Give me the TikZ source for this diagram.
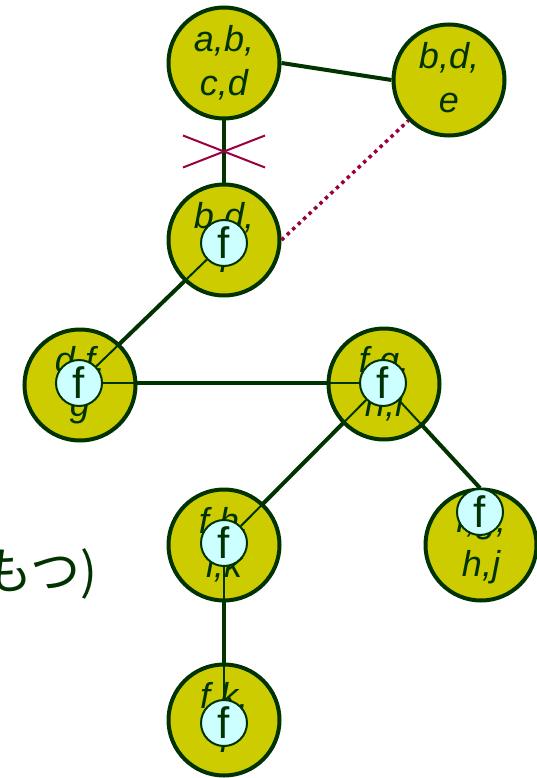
\documentclass[tikz,border=0pt]{standalone}
\usepackage{fontspec}
\setmainfont{Liberation Sans}
\newfontfamily\jpfont{Noto Sans CJK JP}
\usetikzlibrary{calc}
\definecolor{nodeY}{HTML}{CCCC00}
\definecolor{dgreen}{HTML}{003300}
\definecolor{fcyan}{HTML}{CCFFFF}
\definecolor{xred}{HTML}{99003D}
\pgfdeclarelayer{bg}
\pgfdeclarelayer{mid}
\pgfdeclarelayer{fg}
\pgfsetlayers{bg,main,mid,fg}
\tikzset{
  big/.style={circle, draw=dgreen, line width=4pt, fill=nodeY, minimum size=111pt,
    inner sep=0pt, align=center, text=dgreen, font=\itshape\fontsize{36}{44}\selectfont,
    execute at begin node={\rule{0pt}{46pt}},
    execute at end node={\rule[-6pt]{0pt}{6pt}}},
  fsmall/.style={circle, draw=dgreen, line width=2pt, fill=fcyan, minimum size=46pt,
    inner sep=0pt, text=dgreen, font=\fontsize{44}{44}\selectfont},
  thickedge/.style={draw=dgreen, line width=4pt},
  thinedge/.style={draw=dgreen, line width=2pt},
  cutmark/.style={draw=xred, line width=2pt},
  dotedge/.style={draw=xred, line width=3.5pt, dash pattern=on 3.5pt off 4pt},
}
\begin{document}
\begin{tikzpicture}[x=1pt,y=-1pt]
\useasboundingbox (0,0) rectangle (537,778);
% big nodes
\node[big] (abcd) at (224,63) {a,b,\\c,d};
\node[big] (bde)  at (449,80) {b,d,\\e};
\node[big] (bdf)  at (224,240) {b,d,\\f};
\node[big] (dfg)  at (80,385) {d,f,\\g};
\node[big] (fghi) at (384,384) {f,g,\\h,i};
\node[big] (fhik) at (224,545) {f,h,\\i,k};
\node[big] (fghj) at (481,545) {f,g,\\h,j};
\node[big] (fkl)  at (224,720) {f,k,\\l};
% small f nodes
\begin{pgfonlayer}{fg}
\node[fsmall] (fbdf)  at (224,243) {f};
\node[fsmall] (fdfg)  at (79,383) {f};
\node[fsmall] (ffghi) at (383,383) {f};
\node[fsmall] (ffhik) at (224,543) {f};
\node[fsmall] (ffghj) at (480,512) {f};
\node[fsmall] (ffkl)  at (224,723) {f};
\end{pgfonlayer}
% thick edges behind
\begin{pgfonlayer}{bg}
\draw[thickedge] (abcd.east) -- (bde.west);
\draw[thickedge] (abcd) -- (bdf);
\draw[thickedge] (fbdf.center) -- (fdfg.center);
\draw[thickedge] (fdfg.center) -- (ffghi.center);
\draw[thickedge] (ffghi.center) -- (ffhik.center);
\draw[thickedge] (ffghi.center) -- (ffghj.north);
\draw[thickedge] (ffhik.center) -- (ffkl.center);
\end{pgfonlayer}
% thin edges and marks on top of big nodes
\begin{pgfonlayer}{mid}
\draw[thinedge] (fbdf) -- (fdfg);
\draw[thinedge] (fdfg) -- (ffghi);
\draw[thinedge] (ffghi) -- (ffhik);
\draw[thinedge] (ffghi) -- (ffghj.north);
\draw[thinedge] (ffhik) -- (ffkl);
\draw[dotedge] (bdf.east) -- (bde.225);
\coordinate (xm) at ($(abcd.south)!0.5!(bdf.north)$);
\draw[cutmark] ($(xm)+(-41,-16)$) -- ($(xm)+(41,16)$);
\draw[cutmark] ($(xm)+(-41,16)$) -- ($(xm)+(41,-16)$);
\end{pgfonlayer}
% partial Japanese text at left
\node[anchor=east, inner sep=0pt, text=dgreen, font=\jpfont\fontsize{50}{54}\selectfont] (jp) at (98,574) {もつ)};
\end{tikzpicture}
\end{document}
